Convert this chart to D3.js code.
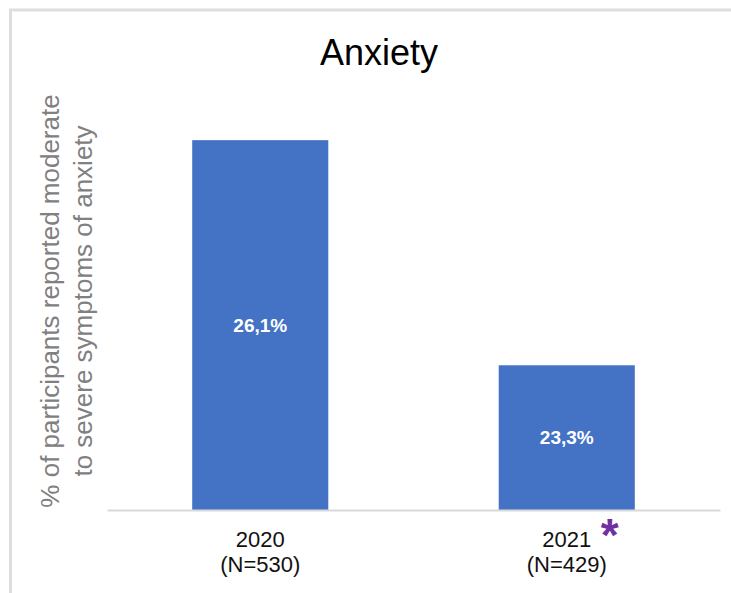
<!DOCTYPE html>
<html>
<head>
<meta charset="utf-8">
<script src="https://cdn.jsdelivr.net/npm/d3@7"></script>
<style>
  html, body { margin: 0; padding: 0; background: #fff; }
  svg { display: block; }
  text { font-family: "Liberation Sans", Arial, Helvetica, sans-serif; }
</style>
</head>
<body>
<div id="chart"></div>
<script>
const categories = ["2020", "2021"];
const sampleSizes = ["(N=530)", "(N=429)"];
const values = [26.1, 23.3];
const valueLabels = ["26,1%", "23,3%"];
const significant = [false, true];
const title = "Anxiety";
const yLabelLines = ["% of participants reported moderate", "to severe symptoms of anxiety"];

const W = 731, H = 593;
const svg = d3.select("#chart").append("svg").attr("width", W).attr("height", H);

// frame
svg.append("path")
  .attr("d", `M10.5,${H} L10.5,10 L${W},10`)
  .attr("fill", "none").attr("stroke", "#dedede").attr("stroke-width", 3);

const x = d3.scaleBand().domain(categories).range([107, 720])
  .paddingInner(0.556).paddingOuter(0.278);
const y = d3.scaleLinear().domain([21.5, 26.5]).range([510, 108]);

const data = categories.map((c, i) => ({ c, v: values[i], lab: valueLabels[i], n: sampleSizes[i], sig: significant[i] }));

svg.selectAll("rect.bar").data(data).enter().append("rect")
  .attr("class", "bar")
  .attr("x", d => x(d.c))
  .attr("width", x.bandwidth())
  .attr("y", d => y(d.v))
  .attr("height", d => y.range()[0] - y(d.v))
  .attr("fill", "#4472C4");

// baseline axis
const xAxis = d3.axisBottom(x).tickSize(0).tickFormat("");
const gx = svg.append("g").attr("transform", `translate(0,${y.range()[0]})`).call(xAxis);
gx.select(".domain").attr("stroke", "#d9d9d9").attr("stroke-width", 2);

// value labels
svg.selectAll("text.val").data(data).enter().append("text")
  .attr("class", "val")
  .attr("x", d => x(d.c) + x.bandwidth() / 2)
  .attr("y", d => (y(d.v) + y.range()[0]) / 2)
  .attr("dy", "0.35em")
  .attr("text-anchor", "middle")
  .attr("fill", "#fff")
  .attr("font-size", 19)
  .attr("font-weight", "bold")
  .text(d => d.lab);

// category labels
const cat = svg.selectAll("g.cat").data(data).enter().append("g")
  .attr("class", "cat")
  .attr("transform", d => `translate(${x(d.c) + x.bandwidth() / 2},0)`);
cat.append("text").attr("y", 547).attr("text-anchor", "middle")
  .attr("font-size", 22).attr("fill", "#111").text(d => d.c);
cat.append("text").attr("y", 572).attr("text-anchor", "middle")
  .attr("font-size", 22).attr("fill", "#111").text(d => d.n);
cat.filter(d => d.sig).append("text")
  .attr("x", 43).attr("y", 551).attr("text-anchor", "middle")
  .attr("font-size", 46).attr("font-weight", "bold").attr("fill", "#7030A0")
  .text("*");

// title
svg.append("text").attr("x", 379).attr("y", 65).attr("text-anchor", "middle")
  .attr("font-size", 36).attr("fill", "#000").text(title);

// y label
const yl = svg.append("text")
  .attr("transform", "translate(59,301) rotate(-90)")
  .attr("text-anchor", "middle").attr("font-size", 26).attr("fill", "#808080");
yLabelLines.forEach((t, i) => {
  yl.append("tspan").attr("x", 0).attr("dy", i === 0 ? 0 : 33).text(t);
});
</script>
</body>
</html>
